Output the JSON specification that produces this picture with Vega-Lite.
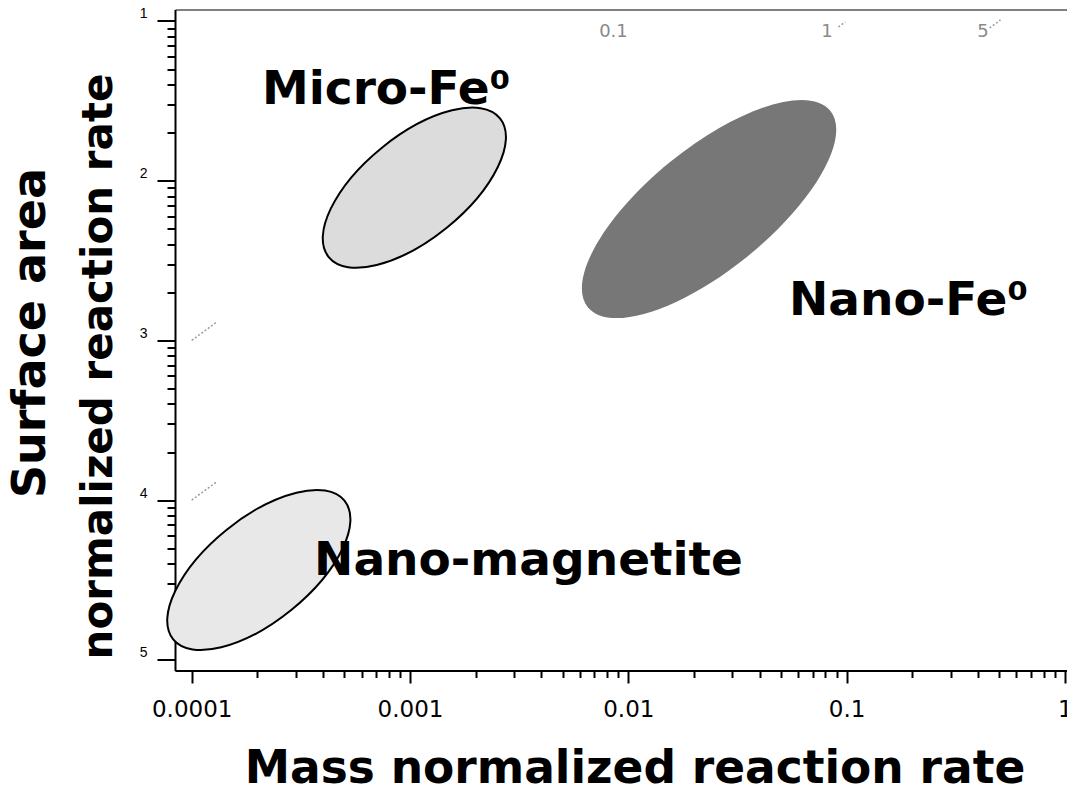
{
  "$schema": "https://vega.github.io/schema/vega-lite/v6.json",
  "width": 892,
  "height": 661,
  "autosize": {"type": "none"},
  "padding": {"left": 175, "top": 9.5, "right": 0, "bottom": 115.5},
  "background": "white",
  "config": {"view": {"stroke": "black", "strokeWidth": 1}},
  "title": {
    "text": "Surface area",
    "orient": "left",
    "anchor": "middle",
    "frame": "group",
    "font": "DejaVu Sans",
    "fontWeight": "bold",
    "fontSize": 46,
    "color": "black",
    "baseline": "alphabetic",
    "offset": -14,
    "dx": 7
  },
  "datasets": {
    "regions": [
      {"material": "Micro-Fe⁰", "massRate": 0.001047, "areaRate": 0.00904},
      {"material": "Nano-Fe⁰", "massRate": 0.02344, "areaRate": 0.00665},
      {"material": "Nano-magnetite", "massRate": 0.000203, "areaRate": 0.0000365}
    ],
    "regionLabels": [
      {"material": "Micro-Fe⁰", "massRate": 0.000777, "areaRate": 0.0300},
      {"material": "Nano-Fe⁰", "massRate": 0.1921, "areaRate": 0.001442},
      {"material": "Nano-magnetite", "massRate": 0.00349, "areaRate": 0.0000340}
    ],
    "ratioLines": [
      {"ratio": "0.1", "massRate": 0.0001, "areaRate": 0.001, "massRate2": 0.000129, "areaRate2": 0.00129},
      {"ratio": "1", "massRate": 0.0001, "areaRate": 0.0001, "massRate2": 0.000129, "areaRate2": 0.000129},
      {"ratio": "1", "massRate": 0.0917, "areaRate": 0.0917, "massRate2": 0.0986, "areaRate2": 0.0986},
      {"ratio": "5", "massRate": 0.452, "areaRate": 0.0904, "massRate2": 0.507, "areaRate2": 0.1015}
    ],
    "ratioLabels": [
      {"ratio": "0.1", "massRate": 0.00855, "areaRate": 0.0794},
      {"ratio": "1", "massRate": 0.0813, "areaRate": 0.0794},
      {"ratio": "5", "massRate": 0.4214, "areaRate": 0.0794}
    ]
  },
  "encoding": {
    "x": {
      "field": "massRate",
      "type": "quantitative",
      "scale": {"type": "log", "domain": [0.00008385, 1.0224], "nice": false, "zero": false},
      "axis": {
        "title": "Mass normalized reaction rate",
        "grid": false,
        "values": [0.0001, 0.0002, 0.0003, 0.0004, 0.0005, 0.0006, 0.0007, 0.0008, 0.0009,
                   0.001, 0.002, 0.003, 0.004, 0.005, 0.006, 0.007, 0.008, 0.009,
                   0.01, 0.02, 0.03, 0.04, 0.05, 0.06, 0.07, 0.08, 0.09,
                   0.1, 0.2, 0.3, 0.4, 0.5, 0.6, 0.7, 0.8, 0.9, 1],
        "format": "~g",
        "labelExpr": "abs(log(datum.value)/LN10 - round(log(datum.value)/LN10)) < 1e-6 ? datum.label : ''",
        "tickSize": {"condition": {"test": "abs(log(datum.value)/LN10 - round(log(datum.value)/LN10)) < 1e-6", "value": 12.5}, "value": 7},
        "tickWidth": 2,
        "tickColor": "black",
        "domainColor": "black",
        "domainWidth": 2,
        "labelFont": "DejaVu Sans",
        "labelFontSize": 23,
        "labelColor": "black",
        "labelPadding": 15,
        "labelBaseline": "top",
        "labelFlush": false,
        "labelOverlap": false,
        "titleFont": "DejaVu Sans",
        "titleFontWeight": "bold",
        "titleFontSize": 45.5,
        "titleColor": "black",
        "titleX": 459.5,
        "titleY": 111.5,
        "titleBaseline": "alphabetic",
        "titleAlign": "center"
      }
    },
    "y": {
      "field": "areaRate",
      "type": "quantitative",
      "scale": {"type": "log", "domain": [0.00000857, 0.118], "nice": false, "zero": false},
      "axis": {
        "title": "normalized reaction rate",
        "grid": false,
        "values": [0.00001, 0.00002, 0.00003, 0.00004, 0.00005, 0.00006, 0.00007, 0.00008, 0.00009,
                   0.0001, 0.0002, 0.0003, 0.0004, 0.0005, 0.0006, 0.0007, 0.0008, 0.0009,
                   0.001, 0.002, 0.003, 0.004, 0.005, 0.006, 0.007, 0.008, 0.009,
                   0.01, 0.02, 0.03, 0.04, 0.05, 0.06, 0.07, 0.08, 0.09, 0.1],
        "labelExpr": "abs(log(datum.value)/LN10 - round(log(datum.value)/LN10)) < 1e-6 ? format(-log(datum.value)/LN10, '.0f') : ''",
        "tickSize": {"condition": {"test": "abs(log(datum.value)/LN10 - round(log(datum.value)/LN10)) < 1e-6", "value": 18}, "value": 8},
        "tickWidth": 2,
        "tickColor": "black",
        "domainColor": "black",
        "domainWidth": 2,
        "labelFont": "Liberation Sans",
        "labelFontSize": 14,
        "labelColor": "black",
        "labelPadding": 10,
        "labelBaseline": "alphabetic",
        "labelOffset": -3,
        "labelFlush": false,
        "labelOverlap": false,
        "titleFont": "DejaVu Sans",
        "titleFontWeight": "bold",
        "titleFontSize": 42,
        "titleColor": "black",
        "titleAngle": -90,
        "titleX": -64,
        "titleY": 356.5,
        "titleBaseline": "alphabetic",
        "titleAlign": "center"
      }
    }
  },
  "layer": [
    {
      "data": {"name": "ratioLines"},
      "mark": {"type": "rule", "color": "#9a9a9a", "strokeWidth": 1.5, "strokeDash": [2, 2]},
      "encoding": {
        "x2": {"field": "massRate2"},
        "y2": {"field": "areaRate2"}
      }
    },
    {
      "data": {"name": "ratioLabels"},
      "mark": {"type": "text", "font": "DejaVu Sans", "fontSize": 18, "color": "#8a8a8a", "align": "center", "baseline": "alphabetic"},
      "encoding": {"text": {"field": "ratio"}}
    },
    {
      "data": {"name": "regions"},
      "mark": {"type": "point", "filled": true, "size": 4, "angle": -39, "opacity": 1, "stroke": "black", "strokeWidth": 2},
      "encoding": {
        "shape": {
          "field": "material",
          "type": "nominal",
          "scale": {
            "domain": ["Micro-Fe⁰", "Nano-Fe⁰", "Nano-magnetite"],
            "range": [
              "M-110.2,0A110.2,51.5,0,1,0,110.2,0A110.2,51.5,0,1,0,-110.2,0Z",
              "M-156,0A156,61,0,1,0,156,0A156,61,0,1,0,-156,0Z",
              "M-110.2,0A110.2,51.5,0,1,0,110.2,0A110.2,51.5,0,1,0,-110.2,0Z"
            ]
          },
          "legend": null
        },
        "fill": {
          "field": "material",
          "type": "nominal",
          "scale": {"domain": ["Micro-Fe⁰", "Nano-Fe⁰", "Nano-magnetite"], "range": ["#dcdcdc", "#777777", "#e8e8e8"]},
          "legend": null
        },
        "strokeOpacity": {"condition": {"test": "datum.material === 'Nano-Fe⁰'", "value": 0}, "value": 1}
      }
    },
    {
      "data": {"name": "regionLabels"},
      "mark": {"type": "text", "font": "DejaVu Sans", "fontWeight": "bold", "fontSize": 47, "color": "black", "align": "center", "baseline": "alphabetic"},
      "encoding": {"text": {"field": "material"}}
    }
  ]
}
